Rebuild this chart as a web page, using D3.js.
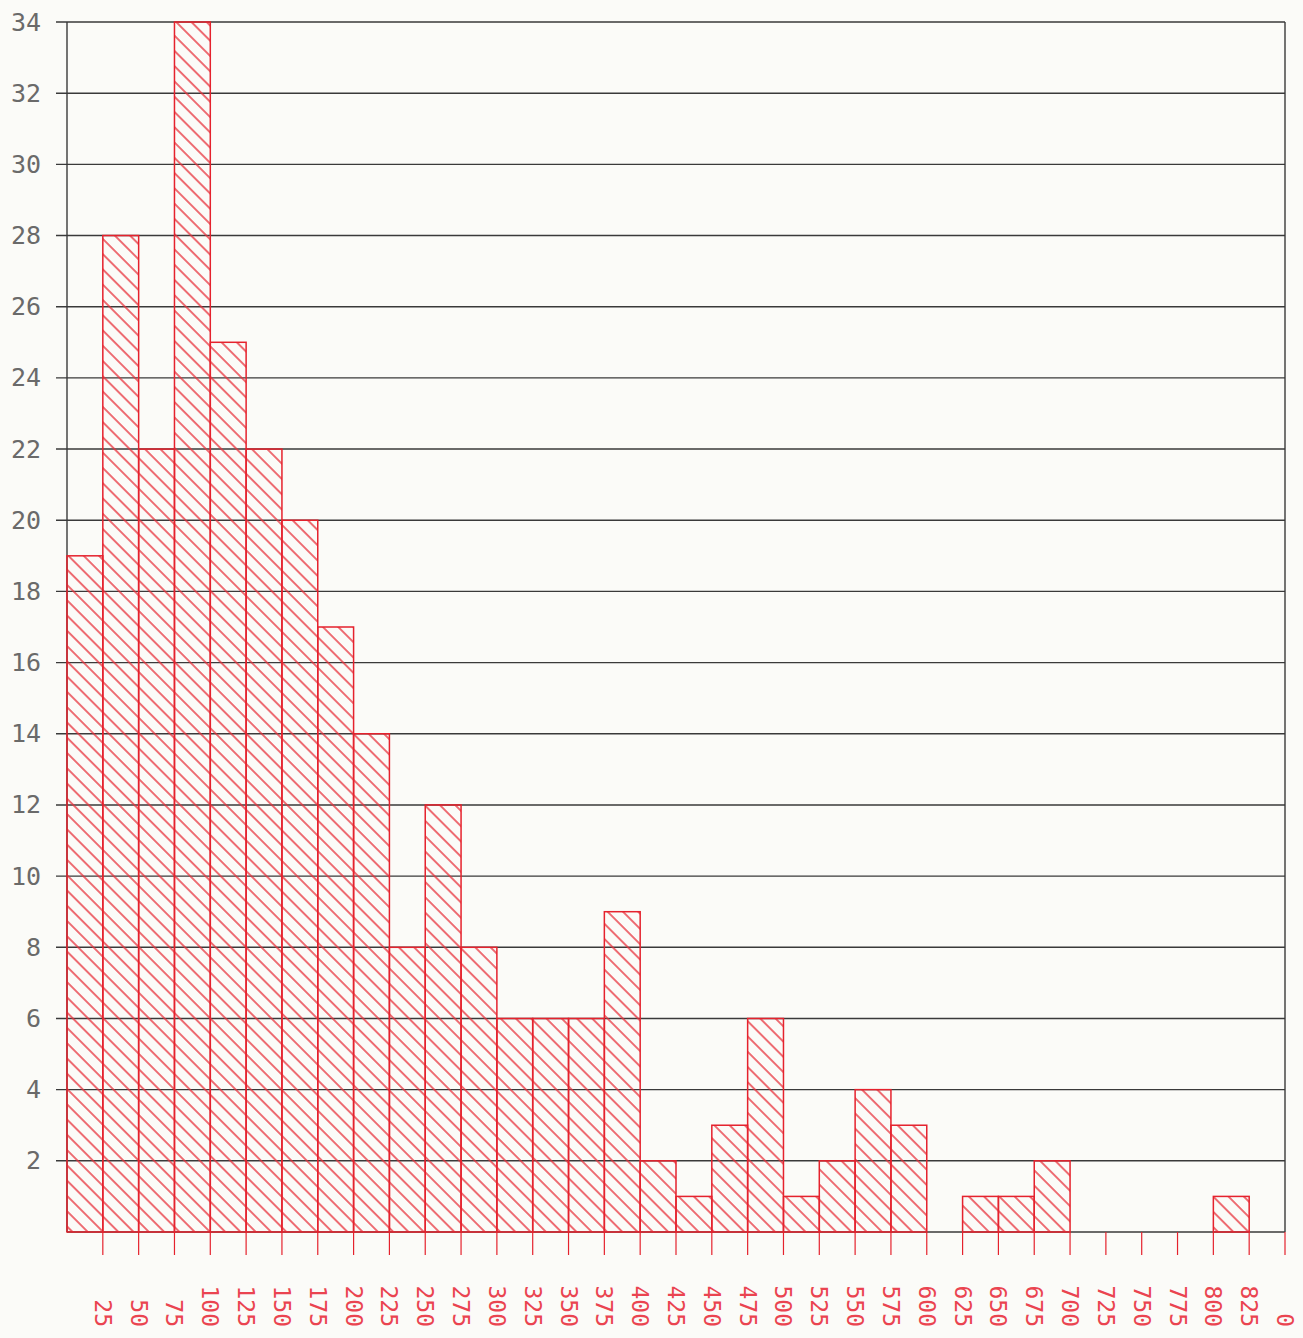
<!DOCTYPE html>
<html>
<head>
<meta charset="utf-8">
<script src="https://cdn.jsdelivr.net/npm/d3@7"></script>
<style>
  html, body { margin: 0; padding: 0; background: #fbfbf8; }
  svg { display: block; }
</style>
</head>
<body>
<div id="chart"></div>
<script>
// bin start of each bar (width 25)
let binStarts = [0, 25, 50, 75, 100, 125, 150, 175, 200, 225, 250, 275, 300, 325, 350, 375,
    400, 425, 450, 475, 500, 525, 550, 575, 600, 625, 650, 675, 700, 725, 750, 775, 800, 825]
let counts = [19, 28, 22, 34, 25, 22, 20, 17, 14, 8, 12, 8, 6, 6, 6, 9,
    2, 1, 3, 6, 1, 2, 4, 3, 0, 1, 1, 2, 0, 0, 0, 0, 1, 0]
let binWidth = 25

// x ticks and the labels as printed (last one really reads "0")
let xTicks = [25, 50, 75, 100, 125, 150, 175, 200, 225, 250, 275, 300, 325, 350, 375, 400,
    425, 450, 475, 500, 525, 550, 575, 600, 625, 650, 675, 700, 725, 750, 775, 800, 825, 850]
let xTickLabels = ["25", "50", "75", "100", "125", "150", "175", "200", "225", "250", "275", "300",
    "325", "350", "375", "400", "425", "450", "475", "500", "525", "550", "575", "600", "625", "650",
    "675", "700", "725", "750", "775", "800", "825", "0"]
let yTicks = [2, 4, 6, 8, 10, 12, 14, 16, 18, 20, 22, 24, 26, 28, 30, 32, 34]

let width = 1303
let height = 1338
let margin = { top: 22, right: 18, bottom: 106, left: 67 }

let red = "#e5222d"
let black = "#3a3a3a"

let svg = d3.select("#chart").append("svg")
    .attr("width", width)
    .attr("height", height)

let xScale = d3.scaleLinear()
    .domain([0, 850])
    .range([margin.left, width - margin.right])
let yScale = d3.scaleLinear()
    .domain([0, 34])
    .range([height - margin.bottom, margin.top])

// hatch pattern (\ direction)
let defs = svg.append("defs")
defs.append("pattern")
    .attr("id", "hatch")
    .attr("patternUnits", "userSpaceOnUse")
    .attr("width", 10.8)
    .attr("height", 10.8)
    .attr("patternTransform", "rotate(-45)")
    .append("line")
    .attr("x1", 1).attr("y1", 0)
    .attr("x2", 1).attr("y2", 10.8)
    .attr("stroke", "#e8313b")
    .attr("stroke-width", 1.4)

// horizontal grid lines
svg.append("g")
    .selectAll("line")
    .data(yTicks)
    .enter()
    .append("line")
    .attr("x1", margin.left - 11)
    .attr("x2", xScale(850))
    .attr("y1", d => yScale(d))
    .attr("y2", d => yScale(d))
    .attr("stroke", black)
    .attr("stroke-width", 1.4)

// y labels
svg.append("g")
    .selectAll("text")
    .data(yTicks)
    .enter()
    .append("text")
    .attr("x", 41)
    .attr("y", d => yScale(d))
    .attr("text-anchor", "end")
    .attr("dominant-baseline", "central")
    .attr("font-family", "DejaVu Sans Mono, monospace")
    .attr("font-size", 25)
    .attr("fill", "#6a6a6a")
    .text(d => d)

// frame: left, right, bottom
svg.append("line")
    .attr("x1", xScale(0)).attr("x2", xScale(0))
    .attr("y1", yScale(34)).attr("y2", yScale(0))
    .attr("stroke", black).attr("stroke-width", 1.4)
svg.append("line")
    .attr("x1", xScale(850)).attr("x2", xScale(850))
    .attr("y1", yScale(34)).attr("y2", yScale(0))
    .attr("stroke", black).attr("stroke-width", 1.4)
svg.append("line")
    .attr("x1", xScale(0)).attr("x2", xScale(850))
    .attr("y1", yScale(0)).attr("y2", yScale(0))
    .attr("stroke", black).attr("stroke-width", 1.6)

// bars
svg.append("g")
    .selectAll("rect")
    .data(binStarts.map((s, i) => ({ start: s, value: counts[i] })).filter(d => d.value > 0))
    .enter()
    .append("rect")
    .attr("x", d => xScale(d.start))
    .attr("width", d => xScale(d.start + binWidth) - xScale(d.start))
    .attr("y", d => yScale(d.value))
    .attr("height", d => yScale(0) - yScale(d.value))
    .attr("fill", "url(#hatch)")
    .attr("stroke", red)
    .attr("stroke-width", 1.5)

// x ticks
let xAxis = svg.append("g")
xAxis.selectAll("line")
    .data(xTicks)
    .enter()
    .append("line")
    .attr("x1", d => xScale(d))
    .attr("x2", d => xScale(d))
    .attr("y1", yScale(0))
    .attr("y2", yScale(0) + 23)
    .attr("stroke", red)
    .attr("stroke-width", 1.2)

xAxis.selectAll("text")
    .data(xTicks)
    .enter()
    .append("text")
    .attr("transform", d => "translate(" + xScale(d) + "," + 1327 + ") rotate(90)")
    .attr("text-anchor", "end")
    .attr("dominant-baseline", "central")
    .attr("font-family", "DejaVu Sans Mono, monospace")
    .attr("font-size", 23)
    .attr("fill", "#ea4450")
    .text((d, i) => xTickLabels[i])
</script>
</body>
</html>
